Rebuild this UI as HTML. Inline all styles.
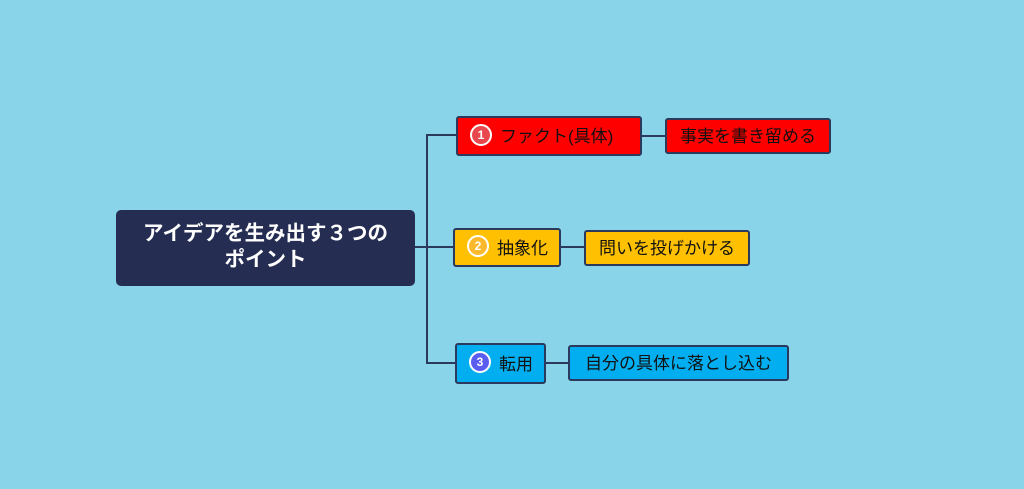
<!DOCTYPE html>
<html><head><meta charset="utf-8"><style>
html,body{margin:0;padding:0}
body{width:1024px;height:489px;background:#89d4e8;position:relative;overflow:hidden;font-family:"Liberation Sans","Noto Sans CJK JP",sans-serif}
.n{position:absolute;box-sizing:border-box;border:2px solid #2b3a5c;border-radius:3px;display:flex;align-items:center;color:#111;font-size:17px;white-space:nowrap;padding-bottom:3px}
.c{display:inline-flex;align-items:center;justify-content:center;width:18px;height:18px;border-radius:50%;border:2px solid #fff;color:#fff;font-size:12px;font-weight:bold;margin-right:8px;box-sizing:content-box}
.l{position:absolute;background:#2b3a5c}
</style></head><body>
<div class="l" style="left:414px;top:246px;width:40px;height:2px"></div>
<div class="l" style="left:426px;top:134px;width:2px;height:230px"></div>
<div class="l" style="left:426px;top:134px;width:30px;height:2px"></div>
<div class="l" style="left:426px;top:362px;width:30px;height:2px"></div>
<div class="l" style="left:641px;top:135px;width:25px;height:2px"></div>
<div class="l" style="left:560px;top:246px;width:25px;height:2px"></div>
<div class="l" style="left:545px;top:362px;width:24px;height:2px"></div>

<div class="n" style="left:116px;top:210px;width:299px;height:76px;background:#252e52;border-color:#252e52;border-radius:5px;color:#fff;font-weight:bold;font-size:20.5px;justify-content:center;text-align:center;line-height:26px;white-space:normal">アイデアを生み出す３つの<br>ポイント</div>

<div class="n" style="left:456px;top:116px;width:186px;height:40px;background:#fe0000;padding-left:12px"><span class="c" style="background:#e8474d">1</span>ファクト(具体)</div>
<div class="n" style="left:665px;top:118px;width:166px;height:36px;background:#fe0000;justify-content:center">事実を書き留める</div>

<div class="n" style="left:453px;top:228px;width:108px;height:39px;background:#fec000;padding-left:12px"><span class="c" style="background:#fdb92e">2</span>抽象化</div>
<div class="n" style="left:584px;top:230px;width:166px;height:36px;background:#fec000;justify-content:center">問いを投げかける</div>

<div class="n" style="left:455px;top:343px;width:91px;height:41px;background:#02aeef;padding-left:12px"><span class="c" style="background:#5a5ef0">3</span>転用</div>
<div class="n" style="left:568px;top:345px;width:221px;height:36px;background:#02aeef;justify-content:center">自分の具体に落とし込む</div>
</body></html>
